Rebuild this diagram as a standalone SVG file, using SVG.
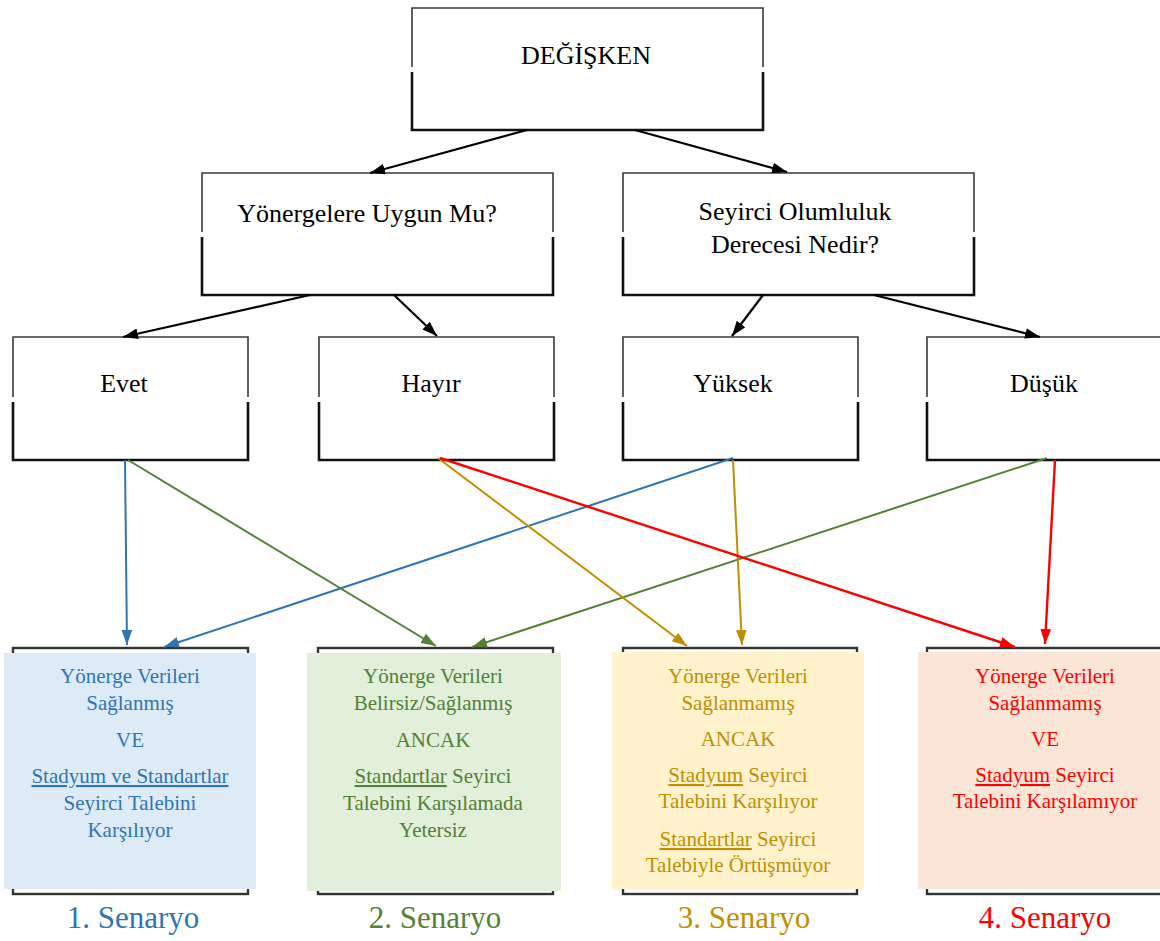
<svg xmlns="http://www.w3.org/2000/svg" width="1160" height="941" viewBox="0 0 1160 941">
<style>
text{font-family:"Liberation Serif","Times New Roman",serif;text-anchor:middle}
.n{font-size:26px;fill:#000}
.up{fill:none;stroke:#3a3a3a;stroke-width:1.6}
.lo{fill:none;stroke:#111;stroke-width:2.6}
.ol{fill:none;stroke:#333;stroke-width:2.4}
.s{font-size:21px}
.h{font-size:31px}
.blue{fill:#2E75B6}.green{fill:#538135}.gold{fill:#BF8F00}.red{fill:#FF0000}
.k{stroke:#000;stroke-width:2.2;fill:none}
.cb{stroke:#2E75B6;stroke-width:2;fill:none}
.cg{stroke:#538135;stroke-width:2;fill:none}
.cy{stroke:#BF8F00;stroke-width:2;fill:none}
.cr{stroke:#FF0000;stroke-width:2.4;fill:none}
</style>
<defs>
<marker id="mk" viewBox="0 0 14 10" refX="14" refY="5" markerWidth="15" markerHeight="11" markerUnits="userSpaceOnUse" orient="auto"><path d="M0,0L14,5L0,10z" fill="#000"/></marker>
<marker id="mb" viewBox="0 0 14 10" refX="14" refY="5" markerWidth="15" markerHeight="11" markerUnits="userSpaceOnUse" orient="auto"><path d="M0,0L14,5L0,10z" fill="#2E75B6"/></marker>
<marker id="mg" viewBox="0 0 14 10" refX="14" refY="5" markerWidth="15" markerHeight="11" markerUnits="userSpaceOnUse" orient="auto"><path d="M0,0L14,5L0,10z" fill="#538135"/></marker>
<marker id="my" viewBox="0 0 14 10" refX="14" refY="5" markerWidth="15" markerHeight="11" markerUnits="userSpaceOnUse" orient="auto"><path d="M0,0L14,5L0,10z" fill="#BF8F00"/></marker>
<marker id="mr" viewBox="0 0 14 10" refX="14" refY="5" markerWidth="15" markerHeight="11" markerUnits="userSpaceOnUse" orient="auto"><path d="M0,0L14,5L0,10z" fill="#FF0000"/></marker>
</defs>
<rect width="1160" height="941" fill="#fff"/>

<g id="n-degisken">
<path class="up" d="M412,67V8H763V67"/>
<path class="lo" d="M412,72V130H763V72"/>
<text class="n" x="586" y="64">DEĞİŞKEN</text>
</g>
<g id="n-yonerge">
<path class="up" d="M202,232V173H553V232"/>
<path class="lo" d="M202,237V295H553V237"/>
<text class="n" x="367" y="222">Yönergelere Uygun Mu?</text>
</g>
<g id="n-seyirci">
<path class="up" d="M623,232V173H974V232"/>
<path class="lo" d="M623,237V295H974V237"/>
<text class="n" x="795" y="220">Seyirci Olumluluk</text>
<text class="n" x="795" y="253">Derecesi Nedir?</text>
</g>
<g id="n-evet">
<path class="up" d="M13,397V337H248V397"/>
<path class="lo" d="M13,402V460H248V402"/>
<text class="n" x="124" y="392">Evet</text>
</g>
<g id="n-hayir">
<path class="up" d="M319,397V337H554V397"/>
<path class="lo" d="M319,402V460H554V402"/>
<text class="n" x="431" y="392">Hayır</text>
</g>
<g id="n-yuksek">
<path class="up" d="M623,397V337H858V397"/>
<path class="lo" d="M623,402V460H858V402"/>
<text class="n" x="733" y="392">Yüksek</text>
</g>
<g id="n-dusuk">
<path class="up" d="M927,397V337H1170"/>
<path class="lo" d="M927,402V460H1170"/>
<text class="n" x="1044" y="392">Düşük</text>
</g>

<g id="s1">
<rect class="ol" x="13" y="648" width="235" height="246"/>
<rect x="4" y="653" width="252" height="236" fill="#DEEBF7"/>
<g class="s blue">
<text x="130" y="683">Yönerge Verileri</text>
<text x="130" y="710">Sağlanmış</text>
<text x="130" y="747">VE</text>
<text x="130" y="783" text-decoration="underline">Stadyum ve Standartlar</text>
<text x="130" y="810">Seyirci Talebini</text>
<text x="130" y="837">Karşılıyor</text>
</g>
<text class="h blue" x="133" y="928">1. Senaryo</text>
</g>
<g id="s2">
<rect class="ol" x="318" y="648" width="235" height="246"/>
<rect x="307" y="653" width="254" height="238" fill="#E2EFDA"/>
<g class="s green">
<text x="433" y="683">Yönerge Verileri</text>
<text x="433" y="710">Belirsiz/Sağlanmış</text>
<text x="433" y="747">ANCAK</text>
<text x="433" y="783"><tspan text-decoration="underline">Standartlar</tspan> Seyirci</text>
<text x="433" y="810">Talebini Karşılamada</text>
<text x="433" y="837">Yetersiz</text>
</g>
<text class="h green" x="435" y="928">2. Senaryo</text>
</g>
<g id="s3">
<rect class="ol" x="623" y="648" width="234" height="246"/>
<rect x="612" y="652" width="252" height="237" fill="#FFF2CC"/>
<g class="s gold">
<text x="738" y="683">Yönerge Verileri</text>
<text x="738" y="710">Sağlanmamış</text>
<text x="738" y="746">ANCAK</text>
<text x="738" y="782"><tspan text-decoration="underline">Stadyum</tspan> Seyirci</text>
<text x="738" y="808">Talebini Karşılıyor</text>
<text x="738" y="846"><tspan text-decoration="underline">Standartlar</tspan> Seyirci</text>
<text x="738" y="872">Talebiyle Örtüşmüyor</text>
</g>
<text class="h gold" x="744" y="928">3. Senaryo</text>
</g>
<g id="s4">
<rect class="ol" x="927" y="648" width="245" height="246"/>
<rect x="918" y="652" width="250" height="237" fill="#FBE5D6"/>
<g class="s red">
<text x="1045" y="683">Yönerge Verileri</text>
<text x="1045" y="710">Sağlanmamış</text>
<text x="1045" y="746">VE</text>
<text x="1045" y="782"><tspan text-decoration="underline">Stadyum</tspan> Seyirci</text>
<text x="1045" y="808">Talebini Karşılamıyor</text>
</g>
<text class="h red" x="1045" y="928">4. Senaryo</text>
</g>

<g id="connectors">
<line class="k" x1="527" y1="130" x2="370" y2="173" marker-end="url(#mk)"/>
<line class="k" x1="635" y1="130" x2="787" y2="172" marker-end="url(#mk)"/>
<line class="k" x1="310" y1="295" x2="123" y2="337" marker-end="url(#mk)"/>
<line class="k" x1="394" y1="295" x2="437" y2="336" marker-end="url(#mk)"/>
<line class="k" x1="763" y1="295" x2="732" y2="336" marker-end="url(#mk)"/>
<line class="k" x1="874" y1="295" x2="1040" y2="337" marker-end="url(#mk)"/>
<line class="cb" x1="125" y1="460" x2="127" y2="645" marker-end="url(#mb)"/>
<line class="cb" x1="733" y1="458" x2="164" y2="647" marker-end="url(#mb)"/>
<line class="cg" x1="128" y1="460" x2="436" y2="646" marker-end="url(#mg)"/>
<line class="cg" x1="1047" y1="458" x2="472" y2="647" marker-end="url(#mg)"/>
<line class="cy" x1="438" y1="458" x2="687" y2="646" marker-end="url(#my)"/>
<line class="cy" x1="733" y1="460" x2="742" y2="645" marker-end="url(#my)"/>
<line class="cr" x1="440" y1="458" x2="1015" y2="647" marker-end="url(#mr)"/>
<line class="cr" x1="1055" y1="460" x2="1045" y2="644" marker-end="url(#mr)"/>
</g>
</svg>
